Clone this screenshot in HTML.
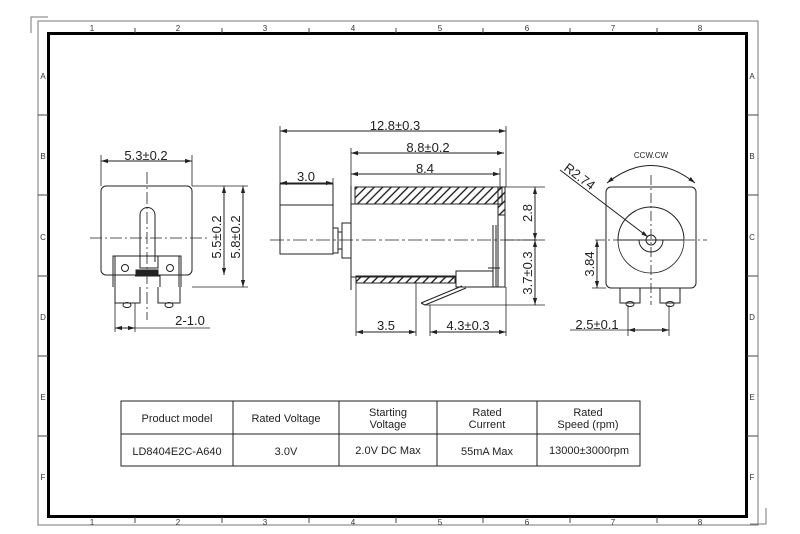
<!DOCTYPE html>
<html><head><meta charset="utf-8"><style>
html,body{margin:0;padding:0;background:#fff;}
svg{display:block;font-family:"Liberation Sans",sans-serif;}
</style></head><body>
<svg width="800" height="534" viewBox="0 0 800 534" xmlns="http://www.w3.org/2000/svg">
<defs>
<pattern id="h" patternUnits="userSpaceOnUse" width="6" height="6" patternTransform="rotate(45)">
<line x1="1" y1="0" x2="1" y2="6" stroke="#111" stroke-width="1.3"/>
</pattern>
<marker id="a" viewBox="0 0 10 10" refX="10" refY="5" markerWidth="7" markerHeight="7" orient="auto-start-reverse"><path d="M0,2 L10,5 L0,8" fill="#222"/></marker>
</defs>
<rect width="800" height="534" fill="#fff"/>
<rect x="38" y="21" width="720" height="504" fill="none" stroke="#777" stroke-width="1"/>
<rect x="48.5" y="33.5" width="698" height="483" fill="none" stroke="#000" stroke-width="3"/>
<path d="M31,33 V17 H48 M766,508 V524 H750" fill="none" stroke="#777"/>
<g stroke="#444" stroke-width="1">
<path d="M135,28 V33 M222,28 V33 M309,28 V33 M396,28 V33 M483,28 V33 M570,28 V33 M657,28 V33"/>
<path d="M135,517 V523 M222,517 V523 M309,517 V523 M396,517 V523 M483,517 V523 M570,517 V523 M657,517 V523"/>
<path d="M38,115 H48 M38,195 H48 M38,276 H48 M38,356 H48 M38,436 H48 M747,115 H758 M747,195 H758 M747,276 H758 M747,356 H758 M747,436 H758"/>
</g>
<g font-size="8" fill="#333" text-anchor="middle">
<text x="92" y="31">1</text><text x="178" y="31">2</text><text x="265" y="31">3</text><text x="353" y="31">4</text><text x="440" y="31">5</text><text x="527" y="31">6</text><text x="613" y="31">7</text><text x="700" y="31">8</text>
<text x="92" y="525">1</text><text x="178" y="525">2</text><text x="265" y="525">3</text><text x="353" y="525">4</text><text x="440" y="525">5</text><text x="527" y="525">6</text><text x="613" y="525">7</text><text x="700" y="525">8</text>
<text x="43" y="79">A</text><text x="43" y="159">B</text><text x="43" y="240">C</text><text x="43" y="320">D</text><text x="43" y="400">E</text><text x="43" y="480">F</text>
<text x="752" y="79">A</text><text x="752" y="159">B</text><text x="752" y="240">C</text><text x="752" y="320">D</text><text x="752" y="400">E</text><text x="752" y="480">F</text>
</g>
<g fill="none" stroke="#222" stroke-width="1">
<rect x="101" y="186" width="91" height="89" rx="5"/>
<path d="M140,262 V215 A7.5,7.5 0 0 1 155,215 V262"/>
<path d="M113,287 V256 H181 V287 M115,256 V287 M179,256 V287 M140,256 V268 H158 V256"/>
<rect x="136" y="270" width="22" height="5" fill="#222"/>
<path d="M135,276 H160 V287 M115,287 V303 H140 V287 M158,287 V303 H180 V287"/>
<circle cx="125" cy="268" r="3.5"/><circle cx="170" cy="268" r="3.5"/>
<ellipse cx="127" cy="305" rx="4" ry="2.5"/><ellipse cx="169" cy="305" rx="4" ry="2.5"/>
<path d="M90,238 H210 M147,172 V320" stroke-dasharray="12,3,2,3" stroke-width="0.8"/>
<path d="M101,186 V155 M192,186 V155 M192,186 H248 M192,287 H248" stroke-width="0.8"/>
<line x1="101" y1="161" x2="192" y2="161" marker-start="url(#a)" marker-end="url(#a)"/>
<line x1="224" y1="186" x2="224" y2="275" marker-start="url(#a)" marker-end="url(#a)"/>
<line x1="243" y1="186" x2="243" y2="287" marker-start="url(#a)" marker-end="url(#a)"/>
<path d="M115,303 V332 M135,303 V332" stroke-width="0.8"/>
<line x1="115" y1="328" x2="135" y2="328" marker-start="url(#a)" marker-end="url(#a)"/>
<path d="M135,328 H210" stroke-width="0.8"/>
<rect x="280" y="184" width="53" height="70"/>
<path d="M280,205 H333"/>
<path d="M333,228 H338 V253 H333 M338,232 H342 V249 H338"/>
<path d="M342,223 H351 V258 H342 Z"/>
<path d="M351,186 V290"/>
<rect x="355" y="187" width="147" height="17" fill="url(#h)"/>
<rect x="498" y="187" width="7" height="28" fill="url(#h)"/>
<path d="M351,204 H498 M498,204 V287 M505,187 V287 H493"/>
<rect x="356" y="276" width="99" height="7" fill="url(#h)"/>
<path d="M351,277 H455 M493,225 V287 M496,225 V287 M456,271 H493 V287 H456 Z M488,268 H500"/>
<path d="M421,303 L462,286 M425,305 L466,288 M421,303 L425,305"/>
<path d="M270,240 H540" stroke-dasharray="14,3,3,3" stroke-width="0.8"/>
<path d="M280,184 V126 M506,187 V126 M351,204 V148 M500,187 V168 M333,184 V178 M505,187 H545 M505,240 H545 M425,305 H545 M356,283 V336 M416,283 V336 M430,305 V336 M506,287 V336" stroke-width="0.8"/>
<line x1="280" y1="131" x2="506" y2="131" marker-start="url(#a)" marker-end="url(#a)"/>
<line x1="351" y1="153" x2="504" y2="153" marker-start="url(#a)" marker-end="url(#a)"/>
<line x1="351" y1="174" x2="500" y2="174" marker-start="url(#a)" marker-end="url(#a)"/>
<line x1="280" y1="183" x2="333" y2="183" marker-start="url(#a)" marker-end="url(#a)"/>
<line x1="535" y1="187" x2="535" y2="240" marker-start="url(#a)" marker-end="url(#a)"/>
<line x1="535" y1="240" x2="535" y2="305" marker-start="url(#a)" marker-end="url(#a)"/>
<line x1="356" y1="332" x2="416" y2="332" marker-start="url(#a)" marker-end="url(#a)"/>
<line x1="430" y1="332" x2="506" y2="332" marker-start="url(#a)" marker-end="url(#a)"/>
<rect x="606" y="187" width="90" height="101" rx="5"/>
<path d="M618,240 A33,33 0 0 1 684,240 Z"/>
<path d="M618,240 A33,33 0 0 0 684,240" stroke-width="0.8"/>
<path d="M639,240 A12,12 0 0 0 663,240"/>
<circle cx="651" cy="240" r="5"/>
<path d="M620,288 V303 H640 V288 M660,288 V303 H680 V288"/>
<ellipse cx="630" cy="304" rx="4" ry="2.5"/><ellipse cx="670" cy="304" rx="4" ry="2.5"/>
<path d="M595,240 H707 M651,175 V305" stroke-dasharray="10,3,2,3" stroke-width="0.8"/>
<path d="M607,183 Q651,148 695,183" marker-start="url(#a)" marker-end="url(#a)"/>
<path d="M560,170 L648,237" marker-end="url(#a)"/>
<line x1="597" y1="240" x2="597" y2="288" marker-start="url(#a)" marker-end="url(#a)"/>
<path d="M592,288 H606 M628,305 V336 M669,305 V336" stroke-width="0.8"/>
<line x1="628" y1="330" x2="669" y2="330" marker-start="url(#a)" marker-end="url(#a)"/>
<path d="M570,330 H628" stroke-width="0.8"/>
<rect x="121" y="401" width="519" height="65"/>
<path d="M121,434 H640 M233,401 V466 M339,401 V466 M437,401 V466 M537,401 V466"/>
</g>
<g font-size="13" fill="#222" text-anchor="middle">
<text x="146" y="160">5.3±0.2</text>
<text x="190" y="325">2-1.0</text>
<text transform="translate(221,237) rotate(-90)">5.5±0.2</text>
<text transform="translate(240,237) rotate(-90)">5.8±0.2</text>
<text x="395" y="130">12.8±0.3</text>
<text x="428" y="152">8.8±0.2</text>
<text x="425" y="173">8.4</text>
<text x="306" y="181">3.0</text>
<text transform="translate(532,213) rotate(-90)">2.8</text>
<text transform="translate(532,273) rotate(-90)">3.7±0.3</text>
<text x="386" y="330">3.5</text>
<text x="468" y="330">4.3±0.3</text>
<text transform="translate(594,264) rotate(-90)">3.84</text>
<text x="597" y="329">2.5±0.1</text>
<text transform="translate(577,180) rotate(37)">R2.74</text>
<text x="651" y="158" font-size="8">CCW.CW</text>
</g>
<g font-size="11" fill="#222" text-anchor="middle">
<text x="177" y="422">Product model</text>
<text x="286" y="422">Rated Voltage</text>
<text x="388" y="416">Starting</text><text x="388" y="428">Voltage</text>
<text x="487" y="416">Rated</text><text x="487" y="428">Current</text>
<text x="588" y="416">Rated</text><text x="588" y="428">Speed (rpm)</text>
<text x="177" y="455">LD8404E2C-A640</text>
<text x="286" y="455">3.0V</text>
<text x="388" y="454">2.0V DC Max</text>
<text x="487" y="455">55mA Max</text>
<text x="589" y="454">13000±3000rpm</text>
</g>
</svg>
</body></html>
